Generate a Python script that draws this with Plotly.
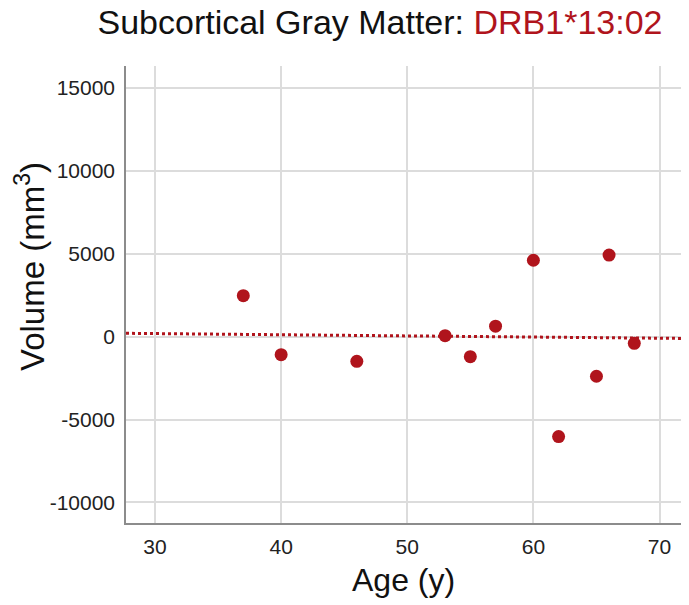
import numpy as np
import plotly.graph_objects as go

age = [37, 40, 46, 53, 55, 57, 60, 62, 65, 66, 68]
volume = [2470, -1090, -1490, 60, -1210, 630, 4610, -6030, -2390, 4920, -400]
x_ticks = [30, 40, 50, 60, 70]
y_ticks = [-10000, -5000, 0, 5000, 10000, 15000]

RED = "#B0141C"
FONT = "Liberation Sans, Arial, sans-serif"

x_range = [27.7, 72.1]
y_range = [-11242, 16327]

slope, intercept = np.polyfit(age, volume, 1)
fit_x = np.array(x_range)
fit_y = slope * fit_x + intercept

# page body adds an 8px margin; figure is sized so that it fills the window
OFF = 8
W, H = 689 - OFF, 605 - OFF
L, T, B, R = 126 - OFF, 66 - OFF, 605 - 523, 3
PW, PH = W - L - R, H - T - B

def px_x(xabs):
    return (xabs - OFF - L) / PW

def px_y(yabs):
    return (H - B - (yabs - OFF)) / PH

fig = go.Figure()
fig.add_trace(go.Scatter(x=fit_x, y=fit_y, mode="lines",
                         line=dict(color=RED, width=3, dash="dot"),
                         showlegend=False, hoverinfo="skip"))
fig.add_trace(go.Scatter(x=age, y=volume, mode="markers",
                         marker=dict(color=RED, size=13, line=dict(width=0)),
                         showlegend=False))

fig.update_layout(
    width=W, height=H,
    margin=dict(l=L, r=R, t=T, b=B),
    plot_bgcolor="white", paper_bgcolor="white",
    font=dict(family=FONT, color="#222222"),
    title=dict(text="Subcortical Gray Matter: <span style='color:%s'>DRB1*13:02</span>" % RED,
               x=(380 - OFF) / W, xanchor="center", y=1 - (22 - OFF) / H, yanchor="middle",
               font=dict(size=34, color="#111111", family=FONT)),
    xaxis=dict(range=x_range, tickvals=x_ticks, ticktext=[str(v) for v in x_ticks],
               showgrid=True, gridcolor="#DCDCDC", gridwidth=1.5,
               showline=True, linecolor="#8C8C8C", linewidth=1.5,
               zeroline=False, ticks="", tickfont=dict(size=21, color="#222222"),
               ticklabelstandoff=4),
    yaxis=dict(range=y_range, tickvals=y_ticks, ticktext=[str(v) for v in y_ticks],
               showgrid=True, gridcolor="#DCDCDC", gridwidth=1.5,
               showline=True, linecolor="#8C8C8C", linewidth=1.5,
               zeroline=False, ticks="", tickfont=dict(size=21, color="#222222"),
               ticklabelstandoff=5),
    annotations=[
        dict(text="Age (y)", xref="paper", yref="paper", x=px_x(403), y=px_y(580),
             xanchor="center", yanchor="middle", showarrow=False,
             font=dict(size=32, color="#111111", family=FONT)),
        dict(text="Volume (mm<sup>3</sup>)", xref="paper", yref="paper",
             x=px_x(30), y=px_y(267), textangle=-90,
             xanchor="center", yanchor="middle", showarrow=False,
             font=dict(size=33, color="#111111", family=FONT)),
    ],
)

fig.write_html("out.html")
